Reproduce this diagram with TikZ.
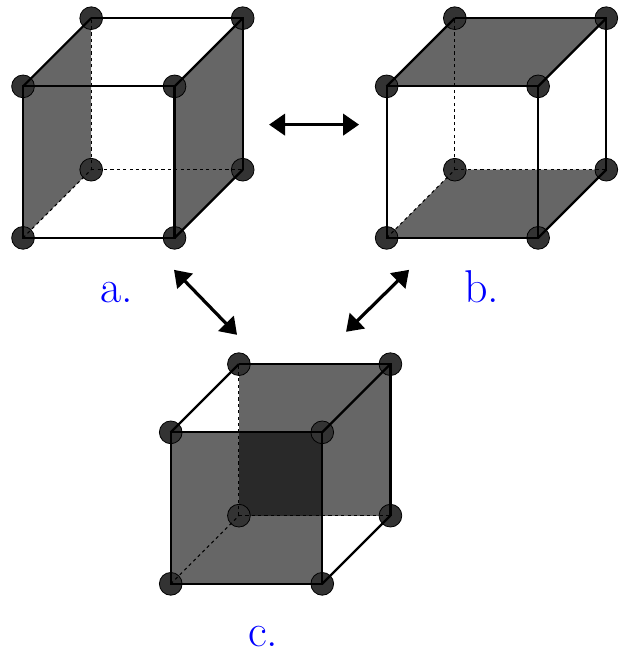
\documentclass[tikz,border=0pt]{standalone}
\usepackage{tikz}
\usetikzlibrary{arrows.meta, backgrounds}

\begin{document}
\begin{tikzpicture}[
    vertex/.style={circle, draw, line width=0.3pt, fill=black!80, minimum size=0.3cm, inner sep=0pt},
    edge/.style={line width=0.85pt},
    hidden/.style={line width=0.4pt, dashed, dash pattern=on 1.2pt off 1.2pt},
    face/.style={fill=black, fill opacity=0.6},
    arrow/.style={{Triangle[length=6pt, width=8pt]}-{Triangle[length=6pt, width=8pt]}, line width=1.2pt},
    tag/.style={text=blue, font=\LARGE, anchor=base}
]
\useasboundingbox (-0.304,-5.48) rectangle (7.908,3.14);

% the three cubes: 1-4 front, 5-8 back
\foreach \cb/\x/\y in {a/0/0, b/4.8/0, c/1.95/-4.567} {
    \node[vertex] (\cb1) at (\x,\y) {};
    \node[vertex] (\cb2) at (\x+2,\y) {};
    \node[vertex] (\cb3) at (\x+2,\y+2) {};
    \node[vertex] (\cb4) at (\x,\y+2) {};
    \node[vertex] (\cb5) at (\x+0.9,\y+0.9) {};
    \node[vertex] (\cb6) at (\x+2.9,\y+0.9) {};
    \node[vertex] (\cb7) at (\x+2.9,\y+2.9) {};
    \node[vertex] (\cb8) at (\x+0.9,\y+2.9) {};
}

% shaded faces
\begin{scope}[on background layer]
\fill[face] (a1.center) -- (a5.center) -- (a8.center) -- (a4.center) -- cycle;
\fill[face] (a2.center) -- (a6.center) -- (a7.center) -- (a3.center) -- cycle;
\fill[face] (b1.center) -- (b2.center) -- (b6.center) -- (b5.center) -- cycle;
\fill[face] (b4.center) -- (b3.center) -- (b7.center) -- (b8.center) -- cycle;
\fill[face] (c1.center) -- (c2.center) -- (c3.center) -- (c4.center) -- cycle;
\fill[face] (c5.center) -- (c6.center) -- (c7.center) -- (c8.center) -- cycle;
\end{scope}

\foreach \cb in {a,b,c} {
    \draw[edge] (\cb1.center) -- (\cb2.center) -- (\cb3.center) -- (\cb4.center) -- cycle;
    \draw[edge] (\cb6.center) -- (\cb7.center) -- (\cb8.center);
    \draw[edge] (\cb2.center) -- (\cb6.center);
    \draw[edge] (\cb3.center) -- (\cb7.center);
    \draw[edge] (\cb4.center) -- (\cb8.center);
    \draw[hidden] (\cb1.center) -- (\cb5.center);
    \draw[hidden] (\cb5.center) -- (\cb6.center);
    \draw[hidden] (\cb5.center) -- (\cb8.center);
}

% arrows
\coordinate (h1) at (3.248,1.495);
\coordinate (h2) at (4.436,1.495);
\coordinate (l1) at (1.993,-0.422);
\coordinate (l2) at (2.825,-1.28);
\coordinate (r1) at (5.096,-0.422);
\coordinate (r2) at (4.264,-1.24);
\draw[arrow] (h1) -- (h2);
\draw[arrow] (l1) -- (l2);
\draw[arrow] (r1) -- (r2);

\node[tag] (ta) at (1.24,-0.85) {a.};
\node[tag] (tb) at (6.055,-0.85) {b.};
\node[tag] (tc) at (3.17,-5.40) {c.};
\end{tikzpicture}
\end{document}
